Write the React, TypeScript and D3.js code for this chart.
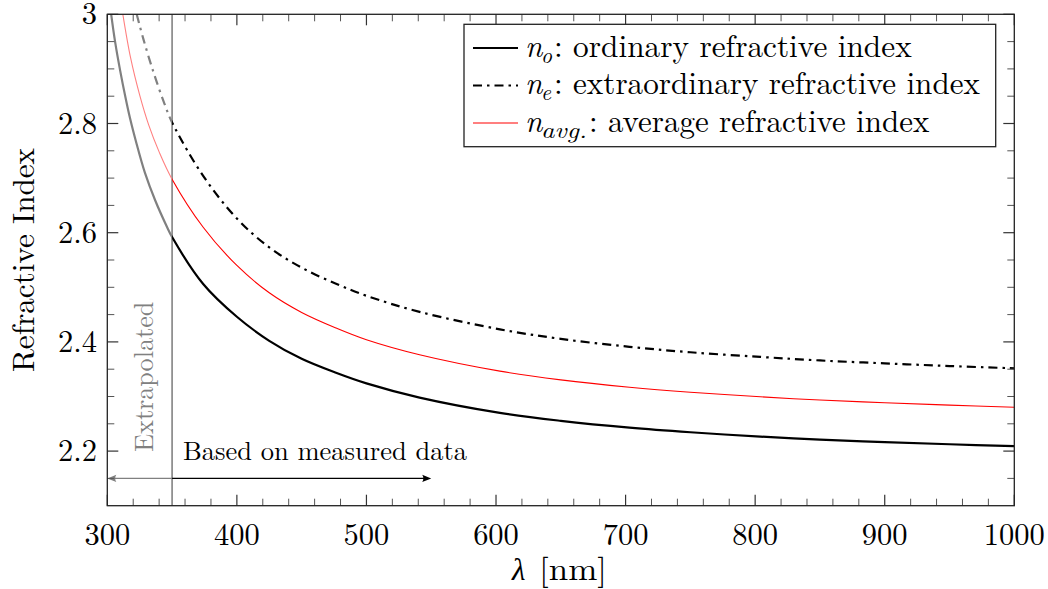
import React, { useEffect, useRef } from 'react';
import * as d3 from 'd3';

// ---- data ----
const xMajorTicks = [300, 400, 500, 600, 700, 800, 900, 1000];
const yMajorTicks = [2.2, 2.4, 2.6, 2.8, 3];
const yTickLabels = ['2.2', '2.4', '2.6', '2.8', '3'];

const lambdaMeasured = [350, 374, 400, 425, 450, 477, 500, 541, 603, 650, 703, 750, 804, 850, 900, 950, 1000];
const noMeasured = [2.592, 2.506, 2.446, 2.402, 2.369, 2.343, 2.324, 2.298, 2.270, 2.2555, 2.243, 2.2345, 2.2265, 2.221, 2.2163, 2.2125, 2.209];
const neMeasured = [2.802, 2.704, 2.626, 2.573, 2.536, 2.506, 2.4845, 2.455, 2.423, 2.4055, 2.391, 2.381, 2.3725, 2.366, 2.3607, 2.3558, 2.3516];
const avgMeasured = [2.698, 2.610, 2.540, 2.490, 2.454, 2.425, 2.404, 2.3765, 2.3465, 2.3305, 2.317, 2.3078, 2.2995, 2.2935, 2.2885, 2.2842, 2.2803];

const noExtrapLambda = [303, 306, 310, 314, 317.5, 322.7, 329, 337, 346];
const noExtrap = [3.0, 2.950, 2.896, 2.848, 2.810, 2.762, 2.710, 2.659, 2.611];
const neExtrapLambda = [322.7, 327.8, 335.5, 344];
const neExtrap = [3.0, 2.955, 2.895, 2.837];
const avgExtrapLambda = [312, 318, 325, 332, 340];
const avgExtrap = [3.0, 2.92, 2.852, 2.797, 2.748];

const boundaryLambda = 350;
const arrowLeftEnd = 300;
const arrowRightEnd = 550;
const arrowLevel = 2.15;

const legendLabels = [': ordinary refractive index', ': extraordinary refractive index', ': average refractive index'];
const legendSubs = ['o', 'e', 'avg.'];

const FONT = "'Latin Modern Roman', 'Liberation Serif', serif";

export default function App() {
  const ref = useRef<SVGSVGElement>(null);

  useEffect(() => {
    document.body.style.margin = '0';
    const svg = d3.select(ref.current);
    svg.selectAll('*').remove();

    const left = 107.3, right = 1014.3, top = 14.3, bottom = 505.7;
    const x = d3.scaleLinear().domain([300, 1000]).range([left, right]);
    const y = d3.scaleLinear().domain([2.1, 3]).range([bottom, top]);
    const xb = x(boundaryLambda);

    svg.append('rect').attr('width', 1048).attr('height', 589).attr('fill', '#fff');

    const txt = (sel: any, size: number, italic = false) =>
      sel.style('font-family', FONT).style('font-size', `${size}px`)
        .style('font-style', italic ? 'italic' : 'normal').style('font-weight', 'normal');

    const defs = svg.append('defs');
    defs.append('clipPath').attr('id', 'clipMeas')
      .append('rect').attr('x', xb).attr('y', top).attr('width', right - xb).attr('height', bottom - top);
    defs.append('clipPath').attr('id', 'clipExtra')
      .append('rect').attr('x', left).attr('y', top).attr('width', xb - left).attr('height', bottom - top);

    const line = d3.line<[number, number]>()
      .x(d => x(d[0])).y(d => y(d[1]))
      .curve(d3.curveCatmullRom.alpha(0.5));
    const zip = (a: number[], b: number[]) => a.map((v, i) => [v, b[i]] as [number, number]);

    const noAll = zip(noExtrapLambda, noExtrap).concat(zip(lambdaMeasured, noMeasured));
    const neAll = zip(neExtrapLambda, neExtrap).concat(zip(lambdaMeasured, neMeasured));
    const avgAll = zip(avgExtrapLambda, avgExtrap).concat(zip(lambdaMeasured, avgMeasured));

    // boundary line
    svg.append('line')
      .attr('x1', xb).attr('x2', xb)
      .attr('y1', top).attr('y2', bottom)
      .attr('stroke', '#7a7a7a').attr('stroke-width', 1.5);

    const dashDot = '9 5 2.5 5';

    const ex = svg.append('g').attr('clip-path', 'url(#clipExtra)');
    ex.append('path').attr('d', line(noAll))
      .attr('fill', 'none').attr('stroke', '#808080').attr('stroke-width', 2.2);
    ex.append('path').attr('d', line(avgAll))
      .attr('fill', 'none').attr('stroke', '#ff8080').attr('stroke-width', 1.1);
    ex.append('path').attr('d', line(neAll))
      .attr('fill', 'none').attr('stroke', '#808080').attr('stroke-width', 2.2)
      .attr('stroke-dasharray', dashDot);

    const me = svg.append('g').attr('clip-path', 'url(#clipMeas)');
    me.append('path').attr('d', line(noAll))
      .attr('fill', 'none').attr('stroke', '#000').attr('stroke-width', 2.2);
    me.append('path').attr('d', line(avgAll))
      .attr('fill', 'none').attr('stroke', '#ff0000').attr('stroke-width', 1.1);
    me.append('path').attr('d', line(neAll))
      .attr('fill', 'none').attr('stroke', '#000').attr('stroke-width', 2.2)
      .attr('stroke-dasharray', dashDot);

    // arrows
    const ay = y(arrowLevel);
    const head = (tipX: number, dir: number, color: string) => {
      const L = 9, W = 3.6;
      svg.append('path')
        .attr('d', `M${tipX},${ay} L${tipX - dir * L},${ay - W} Q${tipX - dir * L * 0.75},${ay} ${tipX - dir * L},${ay + W} Z`)
        .attr('fill', color);
    };
    svg.append('line').attr('x1', xb).attr('x2', x(arrowLeftEnd) + 5)
      .attr('y1', ay).attr('y2', ay).attr('stroke', '#808080').attr('stroke-width', 1.3);
    head(x(arrowLeftEnd), -1, '#808080');
    svg.append('line').attr('x1', xb).attr('x2', x(arrowRightEnd) - 5)
      .attr('y1', ay).attr('y2', ay).attr('stroke', '#000').attr('stroke-width', 1.3);
    head(x(arrowRightEnd), 1, '#000');

    // annotations
    txt(svg.append('text').attr('x', 183).attr('y', 460), 26.5)
      .attr('textLength', 284).attr('lengthAdjust', 'spacingAndGlyphs')
      .text('Based on measured data');
    txt(svg.append('text')
      .attr('transform', `translate(153,376.7) rotate(-90)`)
      .attr('text-anchor', 'middle').attr('fill', '#808080'), 27)
      .attr('textLength', 150).attr('lengthAdjust', 'spacingAndGlyphs')
      .text('Extrapolated');

    // ticks
    const g = svg.append('g');
    const xMinor = d3.range(300, 1001, 20).filter(v => !xMajorTicks.includes(v));
    const yMinorIdx = d3.range(43, 60).filter(i => i % 4 !== 0);
    const tick = (x1: number, y1: number, x2: number, y2: number, major: boolean) =>
      g.append('line').attr('x1', x1).attr('y1', y1).attr('x2', x2).attr('y2', y2)
        .attr('stroke', major ? '#333' : '#555').attr('stroke-width', major ? 1.2 : 1);
    xMajorTicks.forEach(v => {
      tick(x(v), bottom, x(v), bottom - 11, true);
      tick(x(v), top, x(v), top + 11, true);
    });
    xMinor.forEach(v => {
      tick(x(v), bottom, x(v), bottom - 7, false);
      tick(x(v), top, x(v), top + 7, false);
    });
    yMajorTicks.forEach(v => {
      tick(left, y(v), left + 11, y(v), true);
      tick(right, y(v), right - 11, y(v), true);
    });
    yMinorIdx.forEach(i => {
      const v = i * 0.05;
      tick(left, y(v), left + 7, y(v), false);
      tick(right, y(v), right - 7, y(v), false);
    });

    // tick labels
    xMajorTicks.forEach(v => {
      txt(svg.append('text').attr('x', x(v)).attr('y', 545).attr('text-anchor', 'middle'), 30.5)
        .text(String(v));
    });
    yMajorTicks.forEach((v, i) => {
      txt(svg.append('text').attr('x', 97).attr('y', y(v) + 10).attr('text-anchor', 'end'), 30.5)
        .text(yTickLabels[i]);
    });

    // frame
    svg.append('rect').attr('x', left).attr('y', top).attr('width', right - left).attr('height', bottom - top)
      .attr('fill', 'none').attr('stroke', '#222').attr('stroke-width', 1.3);

    // axis labels
    txt(svg.append('text').attr('x', 512).attr('y', 580), 31, true).text('λ');
    txt(svg.append('text').attr('x', 539).attr('y', 580), 31)
      .attr('textLength', 68).attr('lengthAdjust', 'spacingAndGlyphs')
      .text('[nm]');
    txt(svg.append('text')
      .attr('transform', 'translate(34,260) rotate(-90)')
      .attr('text-anchor', 'middle'), 31)
      .attr('textLength', 224).attr('lengthAdjust', 'spacingAndGlyphs')
      .text('Refractive Index');

    // legend
    svg.append('rect').attr('x', 464).attr('y', 24.3).attr('width', 995.7 - 464).attr('height', 146.7 - 24.3)
      .attr('fill', '#fff').attr('stroke', '#222').attr('stroke-width', 1.3);
    const rowsY = [56.5, 94, 131.5];
    const restStart = [554, 554, 589];
    const restEnd = [911.7, 980, 929.3];
    const subLen = [11, 10, 46];
    const styles = [
      { stroke: '#000', w: 2.2, dash: null as string | null },
      { stroke: '#000', w: 2.2, dash: dashDot },
      { stroke: '#ff0000', w: 1.1, dash: null as string | null },
    ];
    rowsY.forEach((ry, i) => {
      const s = styles[i];
      const l = svg.append('line').attr('x1', 473).attr('x2', 518).attr('y1', ry - 8.5).attr('y2', ry - 8.5)
        .attr('stroke', s.stroke).attr('stroke-width', s.w);
      if (s.dash) l.attr('stroke-dasharray', s.dash);
      txt(svg.append('text').attr('x', 525).attr('y', ry), 31, true).text('n');
      txt(svg.append('text').attr('x', 541).attr('y', ry + 6), 22, true)
        .attr('textLength', subLen[i]).attr('lengthAdjust', 'spacingAndGlyphs')
        .text(legendSubs[i]);
      txt(svg.append('text').attr('x', restStart[i]).attr('y', ry), 31)
        .attr('textLength', restEnd[i] - restStart[i]).attr('lengthAdjust', 'spacingAndGlyphs')
        .text(legendLabels[i]);
    });
  }, []);

  return <svg ref={ref} width={1048} height={589} style={{ display: 'block' }} />;
}
